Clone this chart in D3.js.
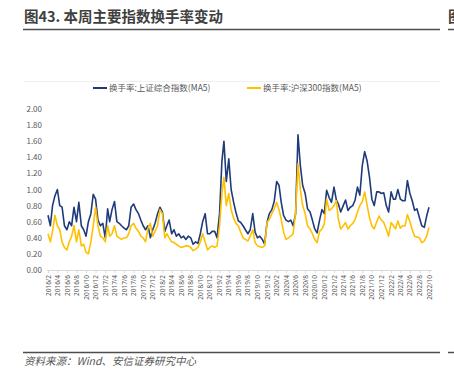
<!DOCTYPE html>
<html>
<head>
<meta charset="utf-8">
<script src="https://cdn.jsdelivr.net/npm/d3@7"></script>
<style>
  body { margin: 0; background: #fff; }
  svg { display: block; font-family: "Noto Sans CJK SC", "Noto Sans", sans-serif; }
</style>
</head>
<body>
<div id="chart"></div>
<script>
// 换手率 (MA5), two readings per month starting 2016/2
const startMonth = [2016, 2];
const shTurnover = [
  0.68, 0.55, 0.80, 0.92, 1.00, 0.80, 0.78, 0.55, 0.50, 0.60,
  0.55, 0.78, 0.60, 0.84, 0.55, 0.50, 0.42, 0.60, 0.70, 0.94,
  0.88, 0.62, 0.55, 0.58, 0.40, 0.76, 0.60, 0.75, 0.85, 0.60,
  0.58, 0.55, 0.52, 0.50, 0.55, 0.78, 0.82, 0.75, 0.70, 0.62,
  0.55, 0.50, 0.55, 0.40, 0.50, 0.58, 0.70, 0.78, 0.72, 0.48,
  0.55, 0.62, 0.45, 0.50, 0.42, 0.45, 0.40, 0.42, 0.38, 0.42,
  0.40, 0.32, 0.35, 0.33, 0.45, 0.60, 0.70, 0.45, 0.45, 0.48,
  0.48, 0.40, 0.70, 1.35, 1.60, 1.10, 1.38, 1.00, 0.85, 0.72,
  0.61, 0.59, 0.55, 0.50, 0.45, 0.50, 0.70, 0.47, 0.40, 0.42,
  0.38, 0.32, 0.59, 0.70, 0.75, 0.85, 1.10, 1.05, 0.84, 0.68,
  0.62, 0.60, 0.62, 0.55, 0.70, 1.68, 1.30, 1.05, 0.95, 0.76,
  0.72, 0.62, 0.51, 0.46, 0.62, 0.75, 0.70, 0.99, 0.90, 0.84,
  1.03, 0.87, 0.82, 0.72, 0.80, 0.87, 0.74, 0.78, 0.80, 0.87,
  1.03, 0.93, 1.30, 1.47, 1.35, 1.15, 0.88, 0.80, 0.97, 0.97,
  0.95, 0.96, 0.80, 0.72, 0.97, 0.88, 0.88, 1.00, 0.88, 0.86,
  0.86, 1.11, 0.95, 0.86, 0.74, 0.76, 0.65, 0.55, 0.53, 0.67,
  0.78
];
const hs300Turnover = [
  0.45, 0.35, 0.48, 0.68, 0.55, 0.50, 0.35, 0.28, 0.25, 0.35,
  0.42, 0.55, 0.35, 0.50, 0.30, 0.32, 0.22, 0.20, 0.35, 0.55,
  0.78, 0.55, 0.42, 0.40, 0.35, 0.55, 0.42, 0.45, 0.55, 0.42,
  0.40, 0.38, 0.40, 0.40, 0.45, 0.55, 0.58, 0.52, 0.48, 0.42,
  0.40, 0.35, 0.52, 0.58, 0.42, 0.48, 0.55, 0.75, 0.70, 0.40,
  0.45, 0.40, 0.35, 0.34, 0.32, 0.30, 0.28, 0.29, 0.30, 0.30,
  0.28, 0.24, 0.26, 0.28, 0.35, 0.45, 0.35, 0.25, 0.28, 0.30,
  0.28, 0.30, 0.55, 0.95, 1.15, 0.80, 0.95, 0.75, 0.65, 0.58,
  0.55, 0.47, 0.40, 0.38, 0.36, 0.42, 0.50, 0.34, 0.30, 0.29,
  0.28, 0.30, 0.59, 0.63, 0.70, 0.76, 0.84, 0.75, 0.63, 0.47,
  0.38, 0.40, 0.42, 0.45, 0.72, 1.32, 1.00, 0.80, 0.70, 0.55,
  0.51, 0.45, 0.38, 0.34, 0.48, 0.51, 0.57, 0.88, 0.74, 0.76,
  0.80, 0.86, 0.63, 0.51, 0.55, 0.59, 0.51, 0.55, 0.58, 0.63,
  0.72, 0.80, 0.85, 0.97, 0.80, 0.65, 0.55, 0.51, 0.60, 0.67,
  0.62, 0.59, 0.51, 0.42, 0.59, 0.55, 0.51, 0.61, 0.52, 0.55,
  0.55, 0.69, 0.60, 0.50, 0.42, 0.41, 0.40, 0.34, 0.36, 0.42,
  0.53
];
const seriesNames = ["换手率:上证综合指数(MA5)", "换手率:沪深300指数(MA5)"];
const seriesColors = ["#1f3b7a", "#ffc000"];
const yTicks = [0, 0.2, 0.4, 0.6, 0.8, 1.0, 1.2, 1.4, 1.6, 1.8, 2.0];
const titleText = "图43. 本周主要指数换手率变动";
const sourceText = "资料来源：Wind、安信证券研究中心";

const W = 454, H = 369;
const svg = d3.select("#chart").append("svg")
    .attr("width", W).attr("height", H);

// date of each reading
const dateAt = i => new Date(startMonth[0], startMonth[1] - 1 + Math.floor(i / 2), i % 2 ? 16 : 1);

const x = d3.scaleTime()
    .domain([new Date(2016, 1, 1), new Date(2022, 9, 1)])
    .range([48, 429]);
const y = d3.scaleLinear()
    .domain([0, 2])
    .range([270, 109]);

// every second month from 2016/2 to 2022/10
const xTicks = d3.timeMonth.range(new Date(2016, 1, 1), new Date(2022, 10, 1), 2);

// title + rule
svg.append("text")
    .attr("x", 24).attr("y", 22)
    .attr("font-size", 14.5).attr("font-weight", 700)
    .attr("fill", "#404040")
    .text(titleText);
svg.append("line")
    .attr("x1", 23).attr("x2", 440).attr("y1", 29.5).attr("y2", 29.5)
    .attr("stroke", "#4d4d4d").attr("stroke-width", 1.5);

// faint chart-area top border
svg.append("line")
    .attr("x1", 24).attr("x2", 440).attr("y1", 81.5).attr("y2", 81.5)
    .attr("stroke", "#f0f0f0").attr("stroke-width", 1);

// y axis labels
svg.append("g").selectAll("text")
    .data(yTicks)
    .join("text")
    .attr("x", 42).attr("y", d => y(d) + 3)
    .attr("text-anchor", "end")
    .attr("font-size", 8).attr("fill", "#595959")
    .text(d => d.toFixed(2));

// x axis
const xAxis = svg.append("g")
    .attr("transform", "translate(0,270)")
    .call(d3.axisBottom(x)
        .tickValues(xTicks)
        .tickFormat(d3.timeFormat("%Y/%-m"))
        .tickSize(3));
xAxis.select(".domain").attr("stroke", "#d9d9d9").attr("d", "M47,0.5H432");
xAxis.selectAll(".tick line").attr("stroke", "#d9d9d9");
xAxis.selectAll(".tick text")
    .attr("transform", "rotate(-90)")
    .attr("text-anchor", "end")
    .attr("x", -5).attr("y", 0).attr("dy", "0.32em")
    .attr("font-size", 6.5)
    .attr("font-family", "\"Noto Sans\", sans-serif")
    .attr("fill", "#595959");

// lines
const line = d3.line()
    .x((d, i) => x(dateAt(i)))
    .y(d => y(d))
    .curve(d3.curveLinear);

[shTurnover, hs300Turnover].forEach((s, k) => {
    svg.append("path")
        .datum(s)
        .attr("fill", "none")
        .attr("stroke", seriesColors[k])
        .attr("stroke-width", 1.6)
        .attr("stroke-linejoin", "round")
        .attr("d", line);
});

// legend
const legendX = [93, 247];
seriesNames.forEach((name, k) => {
    const g = svg.append("g").attr("transform", `translate(${legendX[k]},88)`);
    g.append("line")
        .attr("x1", 0).attr("x2", 14).attr("y1", 0).attr("y2", 0)
        .attr("stroke", seriesColors[k]).attr("stroke-width", 2);
    g.append("text")
        .attr("x", 16).attr("y", 3)
        .attr("font-size", 8.5).attr("fill", "#595959")
        .text(name);
});

// footer
svg.append("line")
    .attr("x1", 23).attr("x2", 440).attr("y1", 352.5).attr("y2", 352.5)
    .attr("stroke", "#4d4d4d").attr("stroke-width", 1.5);
svg.append("text")
    .attr("x", 24).attr("y", 365)
    .attr("font-size", 10.5).attr("font-style", "italic")
    .attr("fill", "#555")
    .text(sourceText);

// edge of the neighbouring panel
svg.append("text")
    .attr("x", 448).attr("y", 22)
    .attr("font-size", 14.5).attr("font-weight", 700).attr("fill", "#404040")
    .text("图");
svg.append("line")
    .attr("x1", 448).attr("x2", 454).attr("y1", 29.5).attr("y2", 29.5)
    .attr("stroke", "#4d4d4d").attr("stroke-width", 1.5);
svg.append("line")
    .attr("x1", 448).attr("x2", 454).attr("y1", 352.5).attr("y2", 352.5)
    .attr("stroke", "#4d4d4d").attr("stroke-width", 1.5);
</script>
</body>
</html>
